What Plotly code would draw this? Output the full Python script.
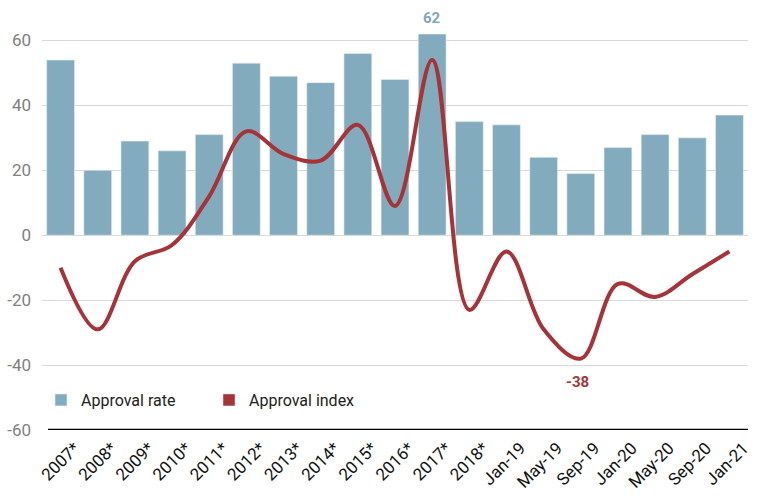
import plotly.graph_objects as go

categories = ["2007*", "2008*", "2009*", "2010*", "2011*", "2012*", "2013*", "2014*",
              "2015*", "2016*", "2017*", "2018*", "Jan-19", "May-19", "Sep-19",
              "Jan-20", "May-20", "Sep-20", "Jan-21"]
approval_rate = [54, 20, 29, 26, 31, 53, 49, 47, 56, 48, 62, 35, 34, 24, 19, 27, 31, 30, 37]
approval_index = [-10, -29, -8, -3, 12, 32, 25, 23, 34, 9, 54, -23, -5, -29, -38, -15, -19, -12, -5]
y_ticks = [60, 40, 20, 0, -20, -40, -60]
y_tick_labels = ["60", "40", "20", "0", "-20", "-40", "-60"]

bar_color = "#83abbe"
line_color = "#a63338"
font_fam = "Roboto, sans-serif"

W, H = 760, 497
fig = go.Figure()
fig.add_trace(go.Bar(x=categories, y=approval_rate, name="Approval rate",
                     marker=dict(color=bar_color, line=dict(color="#e8f0f4", width=0.6))))
fig.add_trace(go.Scatter(x=categories, y=approval_index, mode="lines", name="Approval index",
                         line=dict(color=line_color, width=4, shape="spline", smoothing=1.0),
                         showlegend=False))
# legend swatch for the line series (drawn as a rectangle like the reference)
fig.add_trace(go.Bar(x=[categories[0]], y=[None], name="Approval index",
                     marker=dict(color=line_color)))

fig.add_annotation(x=categories[10], y=approval_rate[10], text="<b>62</b>", showarrow=False,
                   yanchor="bottom", yshift=5, font=dict(color="#7fa8bf", size=15, family=font_fam))
fig.add_annotation(x=categories[14], y=min(approval_index), text="<b>-38</b>", showarrow=False,
                   yanchor="top", yshift=-12, xshift=-3, font=dict(color=line_color, size=15, family=font_fam))

fig.update_layout(
    width=W, height=H,
    margin=dict(l=0, r=0, t=7.5, b=67, autoexpand=False),
    plot_bgcolor="white", paper_bgcolor="white",
    barmode="overlay", bargap=0.25,
    font=dict(family=font_fam),
    legend=dict(orientation="h", x=41 / W, y=0.071, xanchor="left", yanchor="middle",
                font=dict(size=16, color="#222"), bgcolor="rgba(0,0,0,0)",
                entrywidth=123, entrywidthmode="pixels", traceorder="normal"),
    xaxis=dict(type="category", tickangle=-45, tickfont=dict(size=17, color="#111"),
               domain=[42 / W, 748 / W], ticklabelshift=14, ticklabelstandoff=4,
               showgrid=False, showline=False, ticks="", automargin=False),
    yaxis=dict(range=[-60, 70], tickvals=y_ticks, ticktext=y_tick_labels,
               tickfont=dict(size=17, color="#808080"),
               showgrid=True, gridcolor="#d9d9d9", gridwidth=1, zeroline=False,
               ticklabelstandoff=10,
               showline=False, ticks="", automargin=False),
)
fig.add_shape(type="line", xref="paper", yref="y", x0=48 / W, x1=748 / W, y0=-60, y1=-60,
              line=dict(color="black", width=2.5))

fig.write_html("out.html", config={"displayModeBar": False},
               post_script="document.body.style.margin='0';")
